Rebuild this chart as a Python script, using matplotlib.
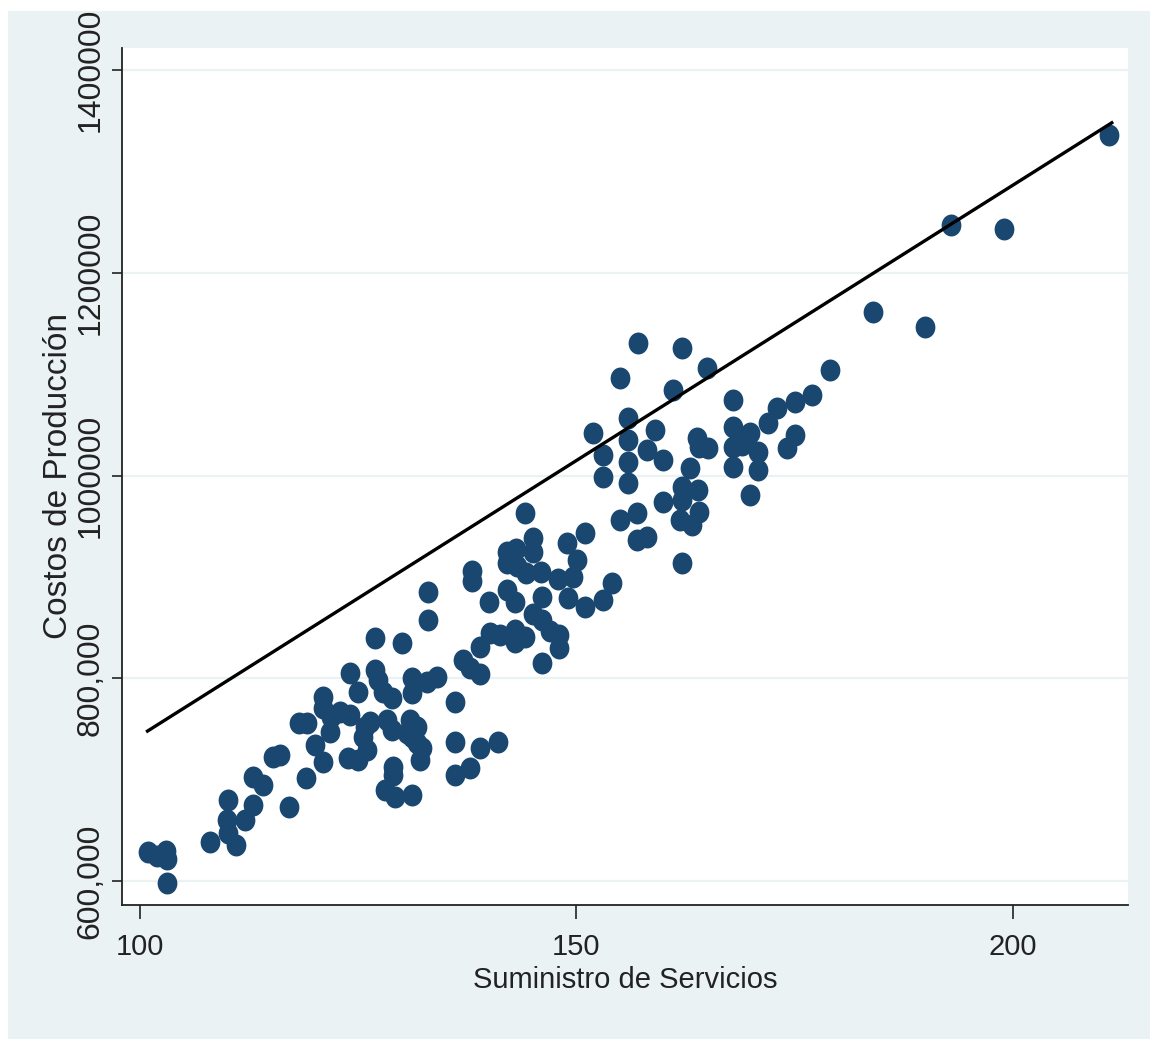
import matplotlib.pyplot as plt
import numpy as np
from matplotlib.patches import Rectangle
from matplotlib.path import Path
from matplotlib.transforms import Affine2D

# values
suministro = [
    100.9, 101.9, 103.0, 103.1, 103.1, 108.0, 110.1, 110.0, 110.1, 111.0,
    112.0, 112.9, 113.0, 114.1, 115.2, 116.0, 117.1, 118.2, 119.1, 119.0,
    120.0, 121.0, 121.0, 121.0, 121.9, 122.9, 124.1, 121.8, 124.1, 125.0,
    123.8, 125.0, 126.0, 126.9, 126.9, 127.3, 127.8, 128.9, 125.8, 126.3,
    125.5, 128.3, 128.9, 129.0, 129.0, 128.1, 129.2, 130.0, 131.2, 131.2,
    132.9, 134.0, 130.9, 131.7, 130.6, 131.2, 131.7, 132.3, 132.1, 131.2,
    133.0, 133.0, 136.1, 136.1, 136.1, 137.8, 137.0, 138.0, 138.0, 138.9,
    141.0, 138.9, 137.8, 138.9, 140.0, 140.1, 141.2, 143.0, 144.1, 143.0,
    142.0, 143.1, 142.0, 143.2, 145.0, 145.0, 144.1, 142.0, 143.0, 144.2,
    145.9, 146.1, 145.0, 146.1, 147.0, 148.0, 148.0, 146.1, 148.9, 151.0,
    147.9, 149.6, 150.1, 149.0, 151.0, 153.0, 154.1, 155.0, 156.9, 156.9,
    157.0, 155.0, 155.9, 151.9, 159.0, 155.9, 153.0, 158.1, 159.9, 155.9,
    153.0, 155.9, 159.9, 158.1, 162.1, 165.0, 161.1, 167.9, 163.8, 164.1,
    165.1, 167.9, 169.9, 167.9, 169.0, 163.0, 162.1, 163.9, 162.1, 164.1,
    161.9, 163.2, 167.9, 170.8, 169.9, 162.1, 170.8, 171.9, 173.0, 175.0,
    177.0, 179.0, 175.0, 174.1, 184.0, 189.9, 192.9, 199.0, 211.0,
]
costos = [
    629000, 625000, 630000, 622000, 598000, 638500, 680000, 660200, 647400, 635500,
    660200, 675000, 702600, 694700, 722300, 724300, 673000, 755900, 755900, 701600,
    734200, 781600, 770700, 717400, 761800, 766800, 763800, 747000, 805200, 786500,
    721400, 719400, 729300, 839800, 808200, 798300, 786500, 780600, 752000, 756900,
    742100, 758900, 749000, 712500, 704600, 689800, 682900, 834800, 800300, 785500,
    796400, 801300, 758900, 752000, 746000, 742100, 736200, 731200, 719400, 684900,
    885200, 857500, 776600, 737200, 704600, 711500, 818100, 905900, 896000, 731200,
    737200, 830900, 810200, 804200, 875300, 844700, 842700, 847700, 840800, 835800,
    924600, 927600, 913800, 910800, 938400, 924600, 963100, 887100, 875300, 903900,
    904900, 880200, 863400, 857500, 846700, 842700, 829900, 815100, 933500, 943400,
    898000, 899900, 916700, 879200, 870400, 877300, 894000, 956200, 963100, 936500,
    1130800, 1096300, 1056800, 1042000, 1045000, 1035100, 1020300, 1025300, 1015400, 1013400,
    998600, 992700, 974000, 939400, 1125900, 1106200, 1084500, 1074600, 1037100, 1028200,
    1027200, 1048000, 1042000, 1028200, 1030200, 1007500, 988800, 985800, 975900, 964100,
    956200, 951300, 1008500, 1005500, 980900, 913800, 1023300, 1051900, 1066700, 1072600,
    1079500, 1104200, 1040100, 1027200, 1161400, 1146600, 1247300, 1243300, 1336100,
]

# fitted line (end points as drawn)
fit_x = [100.7, 211.5]
fit_y = [747000, 1349000]

x_ticks = [100, 150, 200]
y_ticks = [600000, 800000, 1000000, 1200000, 1400000]
y_tick_labels = ["600,000", "800,000", "1000000", "1200000", "1400000"]

bg = "#EAF2F3"
navy = "#1A476F"
sans = ["Liberation Sans", "DejaVu Sans"]

fig = plt.figure(figsize=(11.5, 10.39), dpi=100)
fig.patch.set_facecolor("white")
# outer graph region (light bluish gray)
fig.add_artist(Rectangle((8 / 1150, 0), 1 - 8 / 1150, 1 - 11 / 1039,
                         transform=fig.transFigure, facecolor=bg,
                         edgecolor="none", zorder=0))

ax = fig.add_axes([0.1061, 0.129, 0.9809 - 0.1061, 0.9538 - 0.129])
ax.set_facecolor("white")

# slightly tall dots, like the stretched original
dot = Path.unit_circle().transformed(Affine2D().scale(0.9, 1.0))
ax.scatter(suministro, costos, s=250, marker=dot, color=navy,
           linewidths=0, zorder=3)
ax.plot(fit_x, fit_y, color="black", linewidth=2.4, zorder=4,
        solid_capstyle="butt")

ax.set_xlim(97.94, 213.2)
ax.set_ylim(576300, 1421900)

ax.set_xticks(x_ticks)
ax.set_xticklabels([str(v) for v in x_ticks], family=sans, fontsize=21,
                   color="#222222")
ax.set_yticks(y_ticks)
ax.set_yticklabels(y_tick_labels, family=sans, fontsize=23,
                   color="#222222", rotation=90, va="center")

ax.tick_params(axis="x", length=10, width=1.2, pad=10, color="#222222")
ax.tick_params(axis="y", length=7, width=1.2, pad=5, color="#222222")

ax.yaxis.grid(True, color=bg, linewidth=1.6)
ax.set_axisbelow(True)

for side in ["top", "right"]:
    ax.spines[side].set_visible(False)
for side in ["left", "bottom"]:
    ax.spines[side].set_linewidth(1.3)
    ax.spines[side].set_color("#222222")

ax.set_xlabel("Suministro de Servicios", family=sans, fontsize=21,
              color="#222222", labelpad=4)
ax.set_ylabel("Costos de Producción", family=sans, fontsize=24,
              color="#222222", labelpad=1)

fig.savefig("out.png", dpi=100)
